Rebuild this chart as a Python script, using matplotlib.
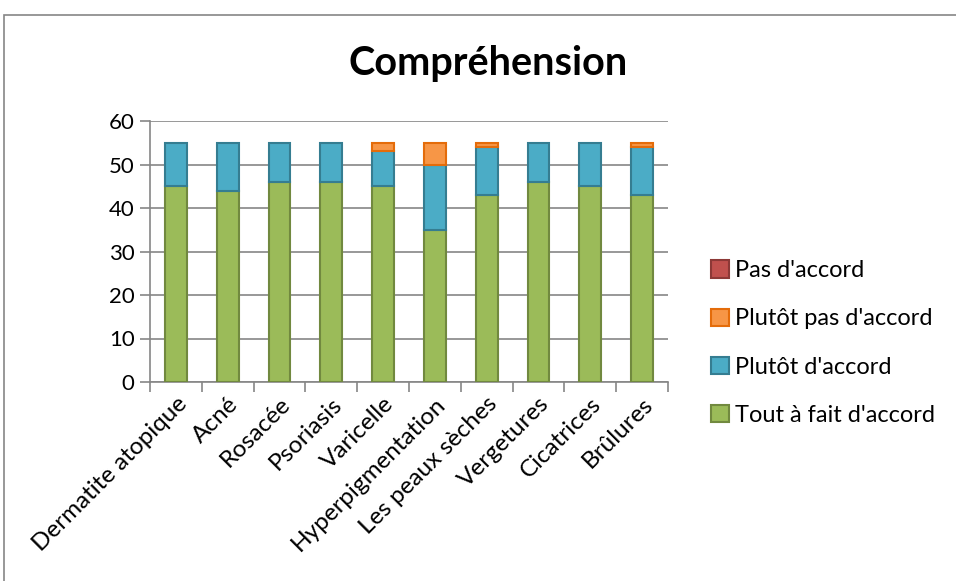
import matplotlib
matplotlib.use("Agg")
import matplotlib.pyplot as plt
import numpy as np
from matplotlib.patches import Rectangle

plt.rcParams['font.family'] = ['Lato', 'DejaVu Sans']

categories = ["Dermatite atopique", "Acné", "Rosacée", "Psoriasis", "Varicelle",
              "Hyperpigmentation", "Les peaux sèches", "Vergetures", "Cicatrices", "Brûlures"]
tout_a_fait = [45, 44, 46, 46, 45, 35, 43, 46, 45, 43]
plutot_accord = [10, 11, 9, 9, 8, 15, 11, 9, 10, 11]
plutot_pas = [0, 0, 0, 0, 2, 5, 1, 0, 0, 1]
pas_accord = [0, 0, 0, 0, 0, 0, 0, 0, 0, 0]

series = [
    ("Tout à fait d'accord", tout_a_fait, "#9BBB59", "#71893F"),
    ("Plutôt d'accord", plutot_accord, "#4BACC6", "#357D91"),
    ("Plutôt pas d'accord", plutot_pas, "#F79646", "#E46C0A"),
    ("Pas d'accord", pas_accord, "#C0504D", "#8C3836"),
]

fig = plt.figure(figsize=(9.56, 5.81), dpi=100)
W, H = 956, 581
ax = fig.add_axes([150 / W, 1 - 382 / H, 518 / W, 261 / H])

x = np.arange(len(categories))
bottom = np.zeros(len(categories))
handles = []
for name, vals, fc, ec in series:
    vals = np.array(vals, dtype=float)
    b = ax.bar(x, vals, width=0.42, bottom=bottom, color=fc, edgecolor=ec,
               linewidth=1.5, label=name, zorder=3)
    for p, v in zip(b.patches, vals):
        if v == 0:
            p.set_visible(False)
    handles.append(Rectangle((0, 0), 1, 1, facecolor=fc, edgecolor=ec, linewidth=1.5))
    bottom += vals

ax.set_xlim(-0.5, len(categories) - 0.5)
ax.set_ylim(0, 60)
ax.set_yticks(range(0, 61, 10))
ax.yaxis.grid(True, color="#868686", linewidth=1.2, zorder=0)
ax.set_axisbelow(True)
for s in ["top", "right"]:
    ax.spines[s].set_visible(False)
ax.spines["left"].set_color("#868686")
ax.spines["bottom"].set_color("#868686")
ax.spines["left"].set_linewidth(1.2)
ax.spines["bottom"].set_linewidth(1.2)
ax.tick_params(axis="y", length=7, color="#868686", width=1.2, labelsize=16, pad=4)
ax.set_xticks(np.arange(-0.5, len(categories), 1.0), minor=False)
ax.set_xticklabels([])
ax.set_xticks(x, minor=True)
ax.set_xticklabels(categories, minor=True, rotation=45, ha="right", rotation_mode="anchor",
                   fontsize=17.5)
ax.tick_params(axis="x", which="major", length=7, color="#868686", width=1.2, direction="out")
ax.tick_params(axis="x", which="minor", length=0, pad=8)

fig.text(488 / W, 1 - 63 / H, "Compréhension", ha="center", va="center",
         fontsize=28.5, fontweight="bold")

leg = fig.legend(handles[::-1], [s[0] for s in series][::-1],
                 loc="upper left", bbox_to_anchor=(690 / W, 1 - 239 / H),
                 frameon=False, fontsize=17, handlelength=0.75, handleheight=0.75,
                 handletextpad=0.25, labelspacing=1.15)

fig.patches.append(Rectangle((4 / W, -0.05), 1.2, 1.05 - 15 / H, transform=fig.transFigure,
                             fill=False, edgecolor="#868686", linewidth=1.2))

fig.savefig("out.png", dpi=100)
